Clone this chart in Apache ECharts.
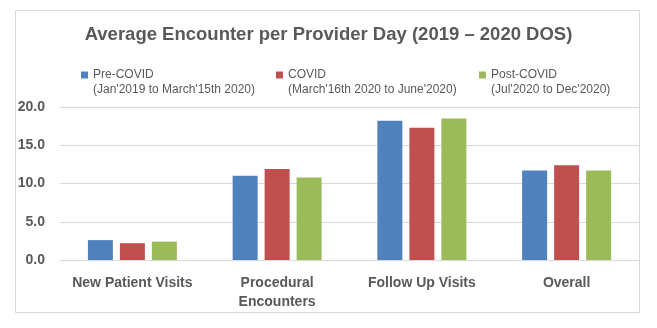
<!DOCTYPE html>
<html>
<head>
<meta charset="utf-8">
<script src="https://cdn.jsdelivr.net/npm/echarts@6/dist/echarts.min.js"></script>
<style>
html,body{margin:0;padding:0;background:#fff;}
#c{width:657px;height:328px;}
</style>
</head>
<body>
<div id="c"></div>
<script>
const categories = ['New Patient Visits', 'Procedural Encounters', 'Follow Up Visits', 'Overall'];
const seriesNames = ['Pre-COVID', 'COVID', 'Post-COVID'];
const seriesRanges = ["(Jan'2019 to March'15th 2020)", "(March'16th 2020 to June'2020)", "(Jul'2020 to Dec'2020)"];
const preCovid = [2.6, 11.0, 18.2, 11.7];
const covid = [2.2, 11.9, 17.3, 12.4];
const postCovid = [2.4, 10.8, 18.5, 11.7];
const yTicks = [0, 5, 10, 15, 20];

const colors = ['#4f81bd', '#c0504d', '#9bbb59'];
const values = [preCovid, covid, postCovid];
const legendLeft = [81, 276, 479];
const FONT = 'Liberation Sans';

const chart = echarts.init(document.getElementById('c'));
chart.setOption({
  animation: false,
  backgroundColor: '#fff',
  color: colors,
  title: {
    text: 'Average Encounter per Provider Day (2019 \u2013 2020 DOS)',
    left: 'center',
    top: 20,
    textStyle: { fontFamily: FONT, fontSize: 18.5, fontWeight: 'bold', color: '#595959' }
  },
  legend: seriesNames.map((n, i) => ({
    data: [n],
    left: legendLeft[i],
    top: 69,
    icon: 'rect',
    itemWidth: 7,
    itemHeight: 7,
    itemGap: 0,
    padding: 0,
    selectedMode: false,
    textStyle: { fontFamily: FONT, fontSize: 12, color: '#595959' }
  })),
  grid: { left: 60, right: 18, top: 107, bottom: 68 },
  xAxis: {
    type: 'category',
    data: categories,
    axisLine: { lineStyle: { color: '#d9d9d9' } },
    axisTick: { show: false },
    axisLabel: {
      interval: 0,
      margin: 14,
      lineHeight: 19,
      fontFamily: FONT, fontSize: 14, fontWeight: 'bold', color: '#595959',
      formatter: (v) => v === 'Procedural Encounters' ? 'Procedural\nEncounters' : v,
      verticalAlign: 'top'
    }
  },
  yAxis: {
    type: 'value',
    min: yTicks[0],
    max: yTicks[yTicks.length - 1],
    interval: 5,
    axisLine: { show: false },
    axisTick: { show: false },
    splitLine: { lineStyle: { color: '#d9d9d9' } },
    axisLabel: {
      margin: 15,
      fontFamily: FONT, fontSize: 14, fontWeight: 'bold', color: '#595959',
      formatter: (v) => v.toFixed(1)
    }
  },
  series: seriesNames.map((n, i) => ({
    name: n,
    type: 'bar',
    data: values[i],
    barWidth: 25,
    barGap: '28%',
    itemStyle: { color: colors[i] }
  })),
  graphic: [{
    type: 'rect',
    shape: { x: 15.5, y: 10.5, width: 624, height: 302 },
    style: { fill: 'none', stroke: '#d9d9d9', lineWidth: 1 },
    silent: true
  }].concat(seriesRanges.map((t, i) => ({
    type: 'text',
    left: legendLeft[i] + 12,
    top: 84,
    silent: true,
    style: { text: t, font: '12px "' + FONT + '"', fill: '#595959' }
  })))
});
</script>
</body>
</html>
